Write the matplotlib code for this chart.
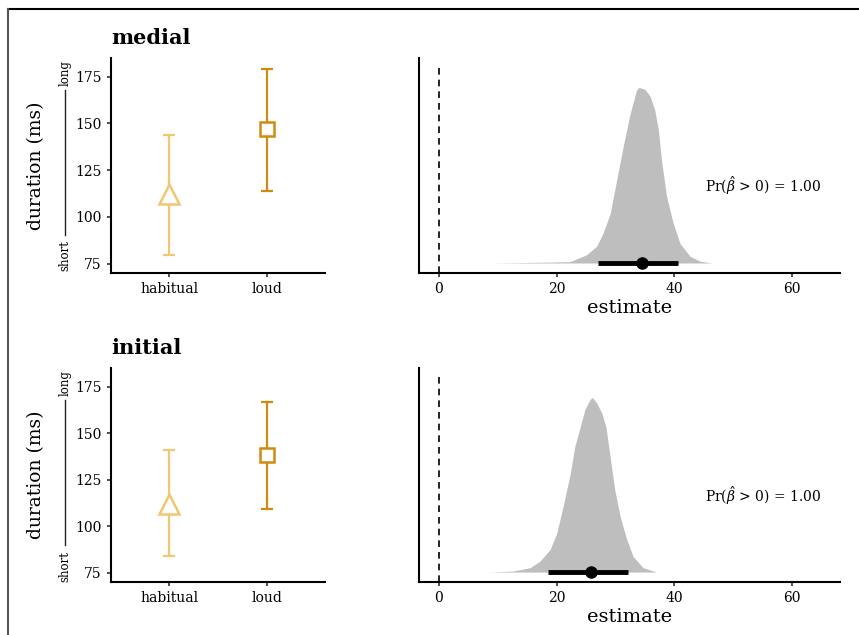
import matplotlib
matplotlib.use("Agg")
import matplotlib.pyplot as plt
from matplotlib.lines import Line2D

plt.rcParams['font.family'] = ['DejaVu Serif']
plt.rcParams['mathtext.fontset'] = 'dejavuserif'

# ---------------- data ----------------
conditions = ["habitual", "loud"]
panels = ["medial", "initial"]

medial_mean = [112.5, 146.8]
medial_low = [79.8, 114.0]
medial_high = [144.0, 179.0]

initial_mean = [112.0, 138.2]
initial_low = [84.0, 109.5]
initial_high = [141.0, 167.0]

# posterior density outlines (estimate, relative height)
medial_dens_x = [8.7, 15.0, 20.0, 22.3, 25.1, 26.8, 27.9, 29.1, 30.2, 31.3, 32.5, 33.6, 34.0,
                 35.0, 35.9, 36.7, 37.3, 37.9, 38.7, 39.8, 41.0, 42.7, 44.4, 46.4]
medial_dens_y = [0.0, 0.003, 0.006, 0.008, 0.047, 0.095, 0.17, 0.28, 0.47, 0.66, 0.85, 0.985, 1.0,
                 0.99, 0.95, 0.87, 0.76, 0.57, 0.38, 0.23, 0.11, 0.038, 0.01, 0.0]
medial_point = 34.5
medial_ci = [27.0, 40.7]

initial_dens_x = [8.7, 12.6, 15.5, 17.2, 18.9, 20.0, 21.1, 22.3, 23.1, 24.0, 24.8, 25.7, 26.1,
                  26.8, 27.7, 28.4, 29.1, 29.9, 30.8, 31.9, 33.0, 34.7, 37.0]
initial_dens_y = [0.0, 0.006, 0.025, 0.063, 0.13, 0.22, 0.375, 0.56, 0.72, 0.83, 0.93, 0.99, 1.0,
                  0.97, 0.91, 0.83, 0.66, 0.47, 0.32, 0.19, 0.09, 0.025, 0.0]
initial_point = 25.85
initial_ci = [18.6, 32.1]

prob_text = r"Pr($\hat{\beta}$ > 0) = 1.00"

# ---------------- style ----------------
cond_colors = ["#F0C772", "#CF8C10"]
cond_markers = ["^", "s"]
cond_msize = [14, 10]

fig = plt.figure(figsize=(8.59, 6.35), dpi=100)

W, H = 859.0, 635.0
def pos(x0, y0, x1, y1):
    return [x0 / W, 1 - y1 / H, (x1 - x0) / W, (y1 - y0) / H]

rows = [(58, 273), (368.3, 582)]
means = [medial_mean, initial_mean]
lows = [medial_low, initial_low]
highs = [medial_high, initial_high]
dxs = [medial_dens_x, initial_dens_x]
dys = [medial_dens_y, initial_dens_y]
pts = [medial_point, initial_point]
cis = [medial_ci, initial_ci]

for r, (y0, y1) in enumerate(rows):
    # left panel
    ax = fig.add_axes(pos(111, y0, 325, y1))
    xs = [1, 2]
    for i in range(2):
        ax.errorbar(xs[i], means[r][i],
                    yerr=[[means[r][i] - lows[r][i]], [highs[r][i] - means[r][i]]],
                    fmt='none', ecolor=cond_colors[i], elinewidth=1.6, capsize=4, capthick=1.6)
        ax.plot(xs[i], means[r][i], marker=cond_markers[i], markersize=cond_msize[i],
                markerfacecolor='white', markeredgecolor=cond_colors[i], markeredgewidth=1.8,
                linestyle='none')
    ax.set_xlim(0.4, 2.6)
    ax.set_ylim(70, 185)
    ax.set_xticks(xs)
    ax.set_xticklabels(conditions, fontsize=10)
    ax.set_yticks([75, 100, 125, 150, 175])
    ax.tick_params(axis='both', labelsize=10, length=3, width=1.2, color='#333333')
    for s in ['top', 'right']:
        ax.spines[s].set_visible(False)
    for s in ['left', 'bottom']:
        ax.spines[s].set_linewidth(1.5)
    ax.set_ylabel("duration (ms)", fontsize=13.5, labelpad=22)
    ax.set_title(panels[r], loc='left', fontsize=15, fontweight='bold', pad=10)

    # short ---- long annotation
    yc = lambda py: 1 - py / H
    off = y0 - 58
    fig.text(65 / W, yc(256 + off), "short", rotation=90, fontsize=8.5, ha='center', va='center')
    fig.text(65 / W, yc(73 + off), "long", rotation=90, fontsize=8.5, ha='center', va='center')
    fig.add_artist(Line2D([65 / W, 65 / W], [yc(235 + off), yc(90 + off)], color='#222222', lw=1.0))

    # right panel
    ax2 = fig.add_axes(pos(419.3, y0, 840, y1))
    ax2.fill_between(dxs[r], 0, dys[r], color='#BEBEBE', linewidth=0)
    ax2.plot(cis[r], [0, 0], color='black', lw=3.5, solid_capstyle='butt')
    ax2.plot([pts[r]], [0], marker='o', color='black', markersize=8)
    ax2.set_xlim(-3.35, 68.2)
    ylo, yhi = -10 / 175.6, 1 + 29.4 / 175.6
    ax2.set_ylim(ylo, yhi)
    ax2.plot([0, 0], [ylo, yhi - 7 / 175.6], color='black', lw=1.2, linestyle=(0, (4, 3)))
    ax2.set_yticks([])
    ax2.set_xticks([0, 20, 40, 60])
    ax2.tick_params(axis='x', labelsize=10, length=3, width=1.2, color='#333333')
    for s in ['top', 'right']:
        ax2.spines[s].set_visible(False)
    for s in ['left', 'bottom']:
        ax2.spines[s].set_linewidth(1.5)
    ax2.set_xlabel("estimate", fontsize=14, labelpad=2)
    ax2.text(45.2, 0.44, prob_text, fontsize=10, ha='left', va='center')

# frame lines
fig.add_artist(Line2D([8 / W, 1.0], [1 - 9 / H, 1 - 9 / H], color='black', lw=1.5))
fig.add_artist(Line2D([8 / W, 8 / W], [0, 1 - 9 / H], color='#555555', lw=1.5))

fig.savefig("out.png", dpi=100)
